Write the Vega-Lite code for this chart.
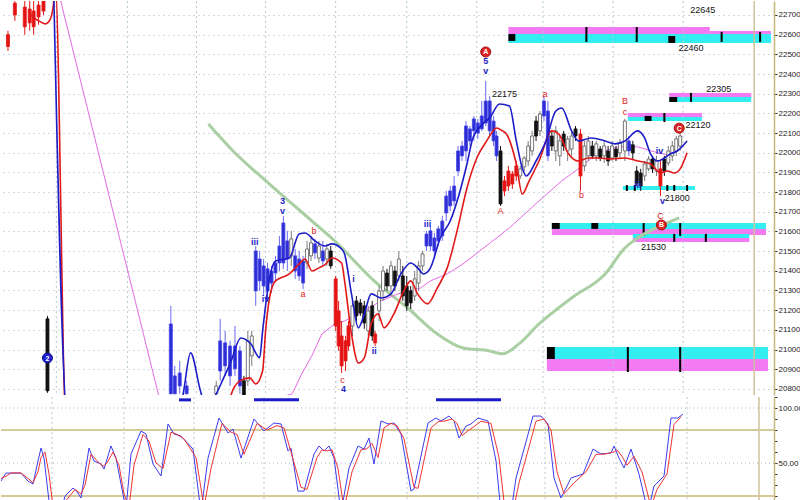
{
  "$schema": "https://vega.github.io/schema/vega-lite/v6.json",
  "background": "white",
  "padding": {"left": 0, "top": 0, "right": -12, "bottom": 0},
  "spacing": 2,
  "bounds": "flush",
  "config": {
    "view": {"stroke": null},
    "font": "Liberation Sans",
    "axis": {"labelFont": "Liberation Sans", "labelFontSize": 8, "labelColor": "#1a1a1a", "tickColor": "#333333", "tickSize": 3, "labelPadding": 1, "domainColor": "#c8b878", "domainWidth": 1.5, "labelOverlap": false}
  },
  "datasets": {
    "vgrid": [{"t": 10.2}, {"t": 24.6}, {"t": 38.6}, {"t": 52.6}, {"t": 66.8}, {"t": 81.2}, {"t": 95.4}, {"t": 108.8}, {"t": 123}, {"t": 137.2}],
    "vline": [{"t": 151.6}],
    "zones": [
      {"x1": 101.8, "x2": 142.6, "y1": 22603, "y2": 22639, "z": "magenta"},
      {"x1": 142.6, "x2": 155, "y1": 22603, "y2": 22619, "z": "magenta"},
      {"x1": 101.8, "x2": 155, "y1": 22558, "y2": 22603, "z": "cyan"},
      {"x1": 134.4, "x2": 151, "y1": 22283, "y2": 22304, "z": "magenta"},
      {"x1": 134.4, "x2": 151, "y1": 22258, "y2": 22283, "z": "cyan"},
      {"x1": 126, "x2": 141, "y1": 22182, "y2": 22202, "z": "magenta"},
      {"x1": 126, "x2": 141, "y1": 22161, "y2": 22182, "z": "cyan"},
      {"x1": 125, "x2": 139.6, "y1": 21811, "y2": 21831, "z": "cyan"},
      {"x1": 110.6, "x2": 154, "y1": 21613, "y2": 21643, "z": "cyan"},
      {"x1": 110.6, "x2": 154, "y1": 21582, "y2": 21613, "z": "magenta"},
      {"x1": 127, "x2": 150.6, "y1": 21567, "y2": 21587, "z": "cyan"},
      {"x1": 127, "x2": 150.6, "y1": 21547, "y2": 21567, "z": "magenta"},
      {"x1": 109.6, "x2": 154.4, "y1": 20952, "y2": 21013, "z": "cyan"},
      {"x1": 109.6, "x2": 154.4, "y1": 20891, "y2": 20952, "z": "magenta"},
      {"x1": 101.8, "x2": 103.2, "y1": 22568, "y2": 22603, "z": "black"},
      {"x1": 134.2, "x2": 135.6, "y1": 22558, "y2": 22593, "z": "black"},
      {"x1": 134.4, "x2": 136, "y1": 22258, "y2": 22283, "z": "black"},
      {"x1": 129.4, "x2": 130.8, "y1": 22161, "y2": 22187, "z": "black"},
      {"x1": 110.6, "x2": 112.2, "y1": 21613, "y2": 21643, "z": "black"},
      {"x1": 118.6, "x2": 120, "y1": 21613, "y2": 21643, "z": "black"},
      {"x1": 109.6, "x2": 111.2, "y1": 20952, "y2": 21013, "z": "black"}
    ],
    "zticks": [
      {"t": 117.6, "y1": 22563, "y2": 22639}, {"t": 127.8, "y1": 22563, "y2": 22639},
      {"t": 145, "y1": 22563, "y2": 22614}, {"t": 152.8, "y1": 22563, "y2": 22614},
      {"t": 138.8, "y1": 22258, "y2": 22304},
      {"t": 133.4, "y1": 22156, "y2": 22202},
      {"t": 125.8, "y1": 21806, "y2": 21836}, {"t": 127.4, "y1": 21806, "y2": 21836}, {"t": 134, "y1": 21806, "y2": 21836}, {"t": 135.4, "y1": 21806, "y2": 21836}, {"t": 138, "y1": 21806, "y2": 21836},
      {"t": 129.2, "y1": 21577, "y2": 21643}, {"t": 136.6, "y1": 21577, "y2": 21643},
      {"t": 135.4, "y1": 21547, "y2": 21587}, {"t": 141.8, "y1": 21547, "y2": 21587},
      {"t": 126, "y1": 20886, "y2": 21013}, {"t": 136.6, "y1": 20886, "y2": 21013}
    ],
    "candles": [
      {"t":0.4,"o":22600,"h":22620,"l":22517,"c":22540,"k":"drop"},
      {"t":1.8,"o":22760,"h":22790,"l":22670,"c":22700,"k":"drop"},
      {"t":3.8,"o":22740,"h":22790,"l":22600,"c":22640,"k":"drop"},
      {"t":4.8,"o":22730,"h":22790,"l":22620,"c":22660,"k":"drop"},
      {"t":5.6,"o":22720,"h":22790,"l":22600,"c":22640,"k":"drop"},
      {"t":6.6,"o":22750,"h":22790,"l":22650,"c":22690,"k":"drop"},
      {"t":7.6,"o":22790,"h":22790,"l":22700,"c":22720,"k":"drop"},
      {"t":8.4,"o":21156,"h":21171,"l":20780,"c":20790,"k":"down"},
      {"t":33.4,"o":20775,"h":21222,"l":20775,"c":21130,"k":"up"},
      {"t":34.2,"o":20775,"h":20917,"l":20775,"c":20866,"k":"up"},
      {"t":35.2,"o":20815,"h":20942,"l":20775,"c":20881,"k":"up"},
      {"t":36.6,"o":20775,"h":20841,"l":20775,"c":20815,"k":"up"},
      {"t":42.6,"o":20775,"h":20841,"l":20775,"c":20815,"k":"flat"},
      {"t":43.4,"o":20891,"h":21156,"l":20841,"c":21044,"k":"up"},
      {"t":44.4,"o":20917,"h":21095,"l":20866,"c":21034,"k":"up"},
      {"t":45.4,"o":20866,"h":21044,"l":20815,"c":21018,"k":"up"},
      {"t":46.4,"o":20902,"h":21120,"l":20866,"c":21018,"k":"up"},
      {"t":47.4,"o":20815,"h":21018,"l":20775,"c":20993,"k":"up"},
      {"t":48.2,"o":20841,"h":20866,"l":20764,"c":20764,"k":"down"},
      {"t":49,"o":20841,"h":21095,"l":20815,"c":21044,"k":"flat"},
      {"t":49.8,"o":20968,"h":21095,"l":20917,"c":21069,"k":"flat"},
      {"t":50.6,"o":21298,"h":21526,"l":21222,"c":21501,"k":"up"},
      {"t":51.4,"o":21349,"h":21501,"l":21298,"c":21460,"k":"up"},
      {"t":52.2,"o":21323,"h":21460,"l":21272,"c":21425,"k":"up"},
      {"t":53,"o":21298,"h":21440,"l":21247,"c":21410,"k":"up"},
      {"t":53.8,"o":21338,"h":21425,"l":21288,"c":21399,"k":"up"},
      {"t":54.6,"o":21389,"h":21476,"l":21349,"c":21440,"k":"up"},
      {"t":55.4,"o":21440,"h":21577,"l":21399,"c":21526,"k":"up"},
      {"t":56.2,"o":21440,"h":21679,"l":21410,"c":21643,"k":"up"},
      {"t":57,"o":21460,"h":21603,"l":21399,"c":21552,"k":"up"},
      {"t":57.8,"o":21476,"h":21603,"l":21425,"c":21562,"k":"flat"},
      {"t":58.6,"o":21399,"h":21511,"l":21359,"c":21476,"k":"up"},
      {"t":59.4,"o":21374,"h":21501,"l":21349,"c":21460,"k":"up"},
      {"t":60.2,"o":21338,"h":21476,"l":21308,"c":21450,"k":"up"},
      {"t":61,"o":21440,"h":21552,"l":21410,"c":21511,"k":"flat"},
      {"t":61.8,"o":21476,"h":21577,"l":21450,"c":21542,"k":"flat"},
      {"t":62.6,"o":21491,"h":21562,"l":21460,"c":21537,"k":"up"},
      {"t":63.4,"o":21465,"h":21552,"l":21440,"c":21526,"k":"flat"},
      {"t":64.2,"o":21450,"h":21552,"l":21425,"c":21501,"k":"up"},
      {"t":65,"o":21460,"h":21537,"l":21425,"c":21511,"k":"flat"},
      {"t":65.8,"o":21501,"h":21526,"l":21410,"c":21425,"k":"down"},
      {"t":66.8,"o":21359,"h":21374,"l":21095,"c":21120,"k":"drop"},
      {"t":67.4,"o":21196,"h":21247,"l":20993,"c":21018,"k":"drop"},
      {"t":68,"o":21069,"h":21145,"l":20881,"c":20917,"k":"drop"},
      {"t":68.8,"o":21044,"h":21069,"l":20891,"c":20942,"k":"drop"},
      {"t":69.4,"o":21018,"h":21145,"l":20993,"c":21120,"k":"drop"},
      {"t":70.2,"o":21120,"h":21247,"l":21069,"c":21222,"k":"flat"},
      {"t":71,"o":21247,"h":21272,"l":21145,"c":21171,"k":"down"},
      {"t":71.8,"o":21237,"h":21257,"l":21171,"c":21186,"k":"down"},
      {"t":72.6,"o":21222,"h":21247,"l":21105,"c":21135,"k":"down"},
      {"t":73.4,"o":21095,"h":21222,"l":21069,"c":21196,"k":"flat"},
      {"t":74.2,"o":21222,"h":21247,"l":21044,"c":21069,"k":"down"},
      {"t":74.8,"o":21079,"h":21095,"l":21018,"c":21034,"k":"drop"},
      {"t":75.6,"o":21196,"h":21323,"l":21145,"c":21298,"k":"flat"},
      {"t":76.4,"o":21298,"h":21425,"l":21247,"c":21399,"k":"flat"},
      {"t":77.2,"o":21389,"h":21410,"l":21298,"c":21323,"k":"down"},
      {"t":78,"o":21323,"h":21450,"l":21272,"c":21425,"k":"flat"},
      {"t":78.8,"o":21399,"h":21425,"l":21298,"c":21323,"k":"down"},
      {"t":79.6,"o":21374,"h":21501,"l":21349,"c":21460,"k":"flat"},
      {"t":80.4,"o":21374,"h":21425,"l":21247,"c":21272,"k":"down"},
      {"t":81.2,"o":21323,"h":21374,"l":21196,"c":21222,"k":"down"},
      {"t":82,"o":21298,"h":21323,"l":21206,"c":21237,"k":"down"},
      {"t":82.8,"o":21272,"h":21399,"l":21247,"c":21359,"k":"flat"},
      {"t":83.6,"o":21338,"h":21450,"l":21298,"c":21425,"k":"flat"},
      {"t":84.4,"o":21425,"h":21501,"l":21399,"c":21486,"k":"flat"},
      {"t":85.2,"o":21526,"h":21603,"l":21501,"c":21587,"k":"up"},
      {"t":86,"o":21526,"h":21628,"l":21501,"c":21603,"k":"up"},
      {"t":86.8,"o":21501,"h":21592,"l":21476,"c":21567,"k":"up"},
      {"t":87.6,"o":21552,"h":21628,"l":21526,"c":21613,"k":"up"},
      {"t":88.4,"o":21577,"h":21679,"l":21552,"c":21653,"k":"up"},
      {"t":89.2,"o":21694,"h":21806,"l":21653,"c":21780,"k":"up"},
      {"t":90,"o":21730,"h":21831,"l":21704,"c":21806,"k":"up"},
      {"t":90.8,"o":21755,"h":21882,"l":21730,"c":21831,"k":"up"},
      {"t":91.6,"o":21907,"h":22034,"l":21882,"c":22009,"k":"up"},
      {"t":92.4,"o":21984,"h":22060,"l":21958,"c":22034,"k":"up"},
      {"t":93.2,"o":22009,"h":22161,"l":21958,"c":22136,"k":"up"},
      {"t":94,"o":22060,"h":22136,"l":22034,"c":22121,"k":"up"},
      {"t":94.8,"o":22111,"h":22187,"l":22060,"c":22172,"k":"up"},
      {"t":95.6,"o":22100,"h":22172,"l":22070,"c":22151,"k":"up"},
      {"t":96.4,"o":22121,"h":22263,"l":22111,"c":22187,"k":"up"},
      {"t":97.2,"o":22151,"h":22365,"l":22136,"c":22263,"k":"up"},
      {"t":98,"o":22263,"h":22288,"l":22085,"c":22111,"k":"up"},
      {"t":98.8,"o":22161,"h":22187,"l":22034,"c":22060,"k":"up"},
      {"t":99.4,"o":22085,"h":22111,"l":21958,"c":21984,"k":"up"},
      {"t":100.2,"o":22009,"h":22034,"l":21730,"c":21740,"k":"down"},
      {"t":101,"o":21806,"h":21882,"l":21780,"c":21857,"k":"drop"},
      {"t":101.8,"o":21831,"h":21933,"l":21806,"c":21907,"k":"drop"},
      {"t":102.6,"o":21841,"h":21907,"l":21816,"c":21892,"k":"drop"},
      {"t":103.4,"o":21882,"h":21958,"l":21857,"c":21933,"k":"drop"},
      {"t":104.2,"o":21882,"h":21933,"l":21867,"c":21918,"k":"flat"},
      {"t":105,"o":21928,"h":21984,"l":21907,"c":21973,"k":"flat"},
      {"t":105.8,"o":21958,"h":22060,"l":21933,"c":22034,"k":"flat"},
      {"t":106.6,"o":22009,"h":22111,"l":21984,"c":22085,"k":"flat"},
      {"t":107.4,"o":22161,"h":22187,"l":22060,"c":22085,"k":"down"},
      {"t":108.2,"o":22111,"h":22212,"l":22085,"c":22197,"k":"flat"},
      {"t":109,"o":22187,"h":22288,"l":22161,"c":22263,"k":"up"},
      {"t":109.8,"o":22212,"h":22263,"l":21958,"c":21984,"k":"up"},
      {"t":110.6,"o":22085,"h":22111,"l":22009,"c":22034,"k":"down"},
      {"t":111.4,"o":22009,"h":22136,"l":21958,"c":22111,"k":"flat"},
      {"t":112.2,"o":21984,"h":22085,"l":21933,"c":22060,"k":"flat"},
      {"t":113,"o":22095,"h":22111,"l":22009,"c":22034,"k":"down"},
      {"t":113.8,"o":22009,"h":22085,"l":21958,"c":22070,"k":"flat"},
      {"t":114.6,"o":22019,"h":22111,"l":21984,"c":22085,"k":"flat"},
      {"t":115.4,"o":22121,"h":22136,"l":22060,"c":22085,"k":"down"},
      {"t":116.4,"o":22095,"h":22121,"l":21806,"c":21882,"k":"drop"},
      {"t":117.2,"o":21933,"h":22060,"l":21907,"c":22034,"k":"flat"},
      {"t":118,"o":21984,"h":22085,"l":21958,"c":22060,"k":"flat"},
      {"t":118.8,"o":22034,"h":22060,"l":21968,"c":21984,"k":"down"},
      {"t":119.6,"o":21984,"h":22060,"l":21958,"c":22045,"k":"flat"},
      {"t":120.4,"o":22019,"h":22034,"l":21958,"c":21973,"k":"down"},
      {"t":121.2,"o":21984,"h":22060,"l":21948,"c":22034,"k":"flat"},
      {"t":122,"o":22009,"h":22034,"l":21933,"c":21958,"k":"down"},
      {"t":122.8,"o":21973,"h":22060,"l":21958,"c":22034,"k":"flat"},
      {"t":123.6,"o":22019,"h":22034,"l":21958,"c":21979,"k":"down"},
      {"t":124.4,"o":21999,"h":22070,"l":21968,"c":22050,"k":"flat"},
      {"t":125.4,"o":22009,"h":22172,"l":21958,"c":22161,"k":"flat"},
      {"t":126.2,"o":22009,"h":22085,"l":21984,"c":22060,"k":"up"},
      {"t":127,"o":22040,"h":22060,"l":21968,"c":21999,"k":"down"},
      {"t":127.8,"o":21907,"h":21933,"l":21831,"c":21846,"k":"down"},
      {"t":128.6,"o":21897,"h":21918,"l":21806,"c":21831,"k":"down"},
      {"t":129.4,"o":21882,"h":21958,"l":21857,"c":21943,"k":"flat"},
      {"t":130.2,"o":21918,"h":21984,"l":21907,"c":21968,"k":"flat"},
      {"t":131,"o":21968,"h":21984,"l":21897,"c":21918,"k":"down"},
      {"t":131.8,"o":21907,"h":21984,"l":21882,"c":21958,"k":"flat"},
      {"t":132.6,"o":21918,"h":21958,"l":21780,"c":21831,"k":"drop"},
      {"t":133.4,"o":21968,"h":21984,"l":21882,"c":21907,"k":"down"},
      {"t":134.2,"o":21948,"h":22034,"l":21933,"c":22009,"k":"flat"},
      {"t":135,"o":21984,"h":22060,"l":21958,"c":22034,"k":"flat"},
      {"t":135.8,"o":22009,"h":22085,"l":21984,"c":22070,"k":"flat"},
      {"t":136.6,"o":22034,"h":22100,"l":22009,"c":22085,"k":"flat"}
    ],
    "fast": [
      {"t":9.6,"v":22900},{"t":12.6,"v":20600},{"t":35,"v":20650},{"t":36,"v":20790},{"t":37.4,"v":20983},{"t":39.4,"v":20790},{"t":40.6,"v":20700},{"t":42.6,"v":20775},{"t":44,"v":20850},{"t":45.4,"v":20927},{"t":47.6,"v":21059},{"t":49.6,"v":21029},{"t":51.4,"v":20958},{"t":52,"v":21095},{"t":53.4,"v":21364},{"t":54.6,"v":21450},{"t":57.4,"v":21465},{"t":59.4,"v":21587},{"t":60.6,"v":21592},{"t":62.6,"v":21552},{"t":64.6,"v":21526},{"t":66,"v":21537},{"t":68,"v":21511},{"t":68.6,"v":21486},{"t":70,"v":21283},{"t":71.4,"v":21110},{"t":72.6,"v":21181},{"t":74,"v":21283},{"t":76,"v":21262},{"t":78,"v":21283},{"t":80,"v":21384},{"t":82,"v":21440},{"t":83.4,"v":21415},{"t":84.6,"v":21384},{"t":86,"v":21415},{"t":88,"v":21567},{"t":90,"v":21653},{"t":92,"v":21806},{"t":93.4,"v":21943},{"t":94.6,"v":22075},{"t":96.6,"v":22146},{"t":98,"v":22177},{"t":100,"v":22248},{"t":102,"v":22238},{"t":103.4,"v":22060},{"t":104.6,"v":21923},{"t":105.4,"v":21882},{"t":107.4,"v":21958},{"t":109.4,"v":22060},{"t":111.4,"v":22212},{"t":112.6,"v":22227},{"t":114.6,"v":22111},{"t":116,"v":22060},{"t":118.6,"v":22075},{"t":121.4,"v":22060},{"t":123.4,"v":22045},{"t":125.4,"v":22060},{"t":128,"v":22111},{"t":129.4,"v":22075},{"t":130.6,"v":21994},{"t":132,"v":21958},{"t":133.4,"v":21973},{"t":134.6,"v":21994},{"t":136,"v":22009},{"t":138,"v":22060}
    ],
    "mid": [
      {"t":5,"v":22700},{"t":6,"v":22680},{"t":7,"v":22665},{"t":8,"v":22655},{"t":9,"v":22680},{"t":9.6,"v":22750},{"t":10,"v":22850},{"t":12.2,"v":20600},{"t":45,"v":20600},{"t":45.6,"v":20770},{"t":47.4,"v":20841},{"t":49.4,"v":20856},{"t":50.6,"v":20825},{"t":52,"v":20892},{"t":52.6,"v":21095},{"t":53.4,"v":21262},{"t":54.6,"v":21349},{"t":57.4,"v":21384},{"t":59.4,"v":21435},{"t":60.6,"v":21460},{"t":62,"v":21399},{"t":63.4,"v":21415},{"t":64.6,"v":21430},{"t":66,"v":21465},{"t":68,"v":21440},{"t":68.6,"v":21349},{"t":70,"v":21079},{"t":71.4,"v":20932},{"t":72.6,"v":20958},{"t":74,"v":21130},{"t":75.4,"v":21181},{"t":76.6,"v":21110},{"t":78.6,"v":21181},{"t":80.6,"v":21298},{"t":82,"v":21349},{"t":83.4,"v":21283},{"t":85.4,"v":21232},{"t":87.4,"v":21313},{"t":89.4,"v":21415},{"t":91.4,"v":21603},{"t":93.4,"v":21821},{"t":95.4,"v":21973},{"t":97.4,"v":22060},{"t":99.4,"v":22126},{"t":100.6,"v":22111},{"t":101.4,"v":22095},{"t":103.4,"v":21943},{"t":104.6,"v":21790},{"t":106,"v":21857},{"t":108,"v":21958},{"t":110.6,"v":22111},{"t":112,"v":22095},{"t":114,"v":21994},{"t":116,"v":21958},{"t":118,"v":21973},{"t":120,"v":21973},{"t":122.6,"v":21968},{"t":125.4,"v":21973},{"t":128,"v":21958},{"t":130.6,"v":21943},{"t":132.6,"v":21897},{"t":134,"v":21907},{"t":135.4,"v":21897},{"t":136.6,"v":21918},{"t":138,"v":22000}
    ],
    "slow": [
      {"t":10.8,"v":22800},{"t":31.2,"v":20740},{"t":53,"v":20740},{"t":58,"v":20775},{"t":60,"v":20880},{"t":62,"v":20970},{"t":64,"v":21079},{"t":66.6,"v":21130},{"t":68.6,"v":21145},{"t":72.6,"v":21196},{"t":76,"v":21247},{"t":79.4,"v":21283},{"t":84,"v":21313},{"t":86,"v":21349},{"t":89.4,"v":21384},{"t":92.6,"v":21435},{"t":96,"v":21501},{"t":99.4,"v":21567},{"t":102,"v":21618},{"t":108,"v":21755},{"t":112.6,"v":21857},{"t":116.6,"v":21930},{"t":120,"v":22000},{"t":124,"v":22030},{"t":128,"v":22030},{"t":132,"v":22000},{"t":134,"v":21990}
    ],
    "trend": [
      {"t":41,"v":22146},{"t":46,"v":22009},{"t":53.4,"v":21841},{"t":62,"v":21653},{"t":66.6,"v":21552},{"t":74.6,"v":21349},{"t":81.4,"v":21211},{"t":87.4,"v":21079},{"t":92.6,"v":21008},{"t":98,"v":20993},{"t":100.6,"v":20978},{"t":104,"v":21030},{"t":108,"v":21130},{"t":114.6,"v":21262},{"t":121.4,"v":21384},{"t":125.4,"v":21516},{"t":128,"v":21567},{"t":132.6,"v":21628},{"t":136.4,"v":21669}
    ],
    "lab_num": [
      {"t":141.2,"v":22725,"txt":"22645"},{"t":138.8,"v":22532,"txt":"22460"},{"t":144.4,"v":22324,"txt":"22305"},{"t":140.2,"v":22141,"txt":"22120"},{"t":101,"v":22299,"txt":"22175"},{"t":136,"v":21770,"txt":"21800"},{"t":131.2,"v":21521,"txt":"21530"}
    ],
    "lab_red": [
      {"t":60.2,"v":21283,"txt":"a"},{"t":62.4,"v":21603,"txt":"b"},{"t":68.2,"v":20846,"txt":"c"},{"t":100.2,"v":21704,"txt":"A"},{"t":109.2,"v":22299,"txt":"a"},{"t":116.6,"v":21785,"txt":"b"},{"t":125.4,"v":22263,"txt":"B"},{"t":125.4,"v":22207,"txt":"c"},{"t":132.6,"v":21679,"txt":"C"}
    ],
    "lab_blue": [
      {"t":56,"v":21755,"txt":"3"},{"t":56,"v":21704,"txt":"v"},{"t":50.4,"v":21547,"txt":"iii"},{"t":52.6,"v":21257,"txt":"iv"},{"t":68.4,"v":20800,"txt":"4"},{"t":70.4,"v":21359,"txt":"i"},{"t":74.6,"v":20993,"txt":"ii"},{"t":85.4,"v":21638,"txt":"iii"},{"t":97.2,"v":22466,"txt":"5"},{"t":97.2,"v":22415,"txt":"v"},{"t":128,"v":21836,"txt":"iii"},{"t":133,"v":21755,"txt":"v"},{"t":132.4,"v":22009,"txt":"iv"},{"t":126.6,"v":22024,"txt":"i"}
    ],
    "circles": [
      {"t":97.2,"v":22512,"txt":"A","g":"red"},{"t":136.4,"v":22125,"txt":"C","g":"red"},{"t":132.8,"v":21633,"txt":"B","g":"red"},{"t":8.4,"v":20957,"txt":"2","g":"blue"}
    ],
    "stoch": [
      {"t":0,"v":33.6,"s":"k"},{"t":1,"v":40.9,"s":"k"},{"t":2,"v":40.9,"s":"k"},{"t":4,"v":40.9,"s":"k"},{"t":5.4,"v":33.6,"s":"k"},{"t":6.4,"v":30.9,"s":"k"},{"t":7.4,"v":51.8,"s":"k"},{"t":8,"v":63.6,"s":"k"},{"t":8.6,"v":54.5,"s":"k"},{"t":9.6,"v":15.5,"s":"k"},{"t":10.4,"v":5,"s":"k"},{"t":12,"v":5,"s":"k"},{"t":12.8,"v":20,"s":"k"},{"t":14.4,"v":27.3,"s":"k"},{"t":15.2,"v":24,"s":"k"},{"t":16,"v":18.2,"s":"k"},{"t":17.6,"v":63.6,"s":"k"},{"t":18.6,"v":51.8,"s":"k"},{"t":20,"v":49.1,"s":"k"},{"t":20.6,"v":44.5,"s":"k"},{"t":22,"v":65.5,"s":"k"},{"t":23,"v":54.5,"s":"k"},{"t":24,"v":30.9,"s":"k"},{"t":25,"v":8,"s":"k"},{"t":26,"v":58.2,"s":"k"},{"t":28,"v":79.1,"s":"k"},{"t":29,"v":76.4,"s":"k"},{"t":30.4,"v":49.1,"s":"k"},{"t":32,"v":38.2,"s":"k"},{"t":33.4,"v":85.5,"s":"k"},{"t":34.6,"v":76.4,"s":"k"},{"t":36,"v":74.5,"s":"k"},{"t":38.4,"v":62.7,"s":"k"},{"t":40,"v":5,"s":"k"},{"t":41.4,"v":54.5,"s":"k"},{"t":43.6,"v":90.9,"s":"k"},{"t":45.4,"v":77.3,"s":"k"},{"t":46.4,"v":80.9,"s":"k"},{"t":48,"v":54.5,"s":"k"},{"t":50.6,"v":90,"s":"k"},{"t":52.6,"v":79.1,"s":"k"},{"t":54.6,"v":86.4,"s":"k"},{"t":56,"v":85.5,"s":"k"},{"t":57.4,"v":60.9,"s":"k"},{"t":58,"v":63.6,"s":"k"},{"t":59.4,"v":24.5,"s":"k"},{"t":60.6,"v":24.5,"s":"k"},{"t":62.6,"v":58.2,"s":"k"},{"t":63.6,"v":65.5,"s":"k"},{"t":64.6,"v":60.9,"s":"k"},{"t":65.6,"v":65.5,"s":"k"},{"t":66.6,"v":54.5,"s":"k"},{"t":68,"v":5,"s":"k"},{"t":69.6,"v":45.5,"s":"k"},{"t":71.4,"v":65.5,"s":"k"},{"t":72.6,"v":62.7,"s":"k"},{"t":73.6,"v":72.7,"s":"k"},{"t":74.6,"v":49.1,"s":"k"},{"t":76,"v":88.2,"s":"k"},{"t":77.4,"v":85.5,"s":"k"},{"t":78.6,"v":86.4,"s":"k"},{"t":80,"v":76.4,"s":"k"},{"t":82,"v":24.5,"s":"k"},{"t":82.6,"v":26.4,"s":"k"},{"t":85.4,"v":86.4,"s":"k"},{"t":87,"v":90.9,"s":"k"},{"t":88,"v":88.2,"s":"k"},{"t":89.6,"v":92.7,"s":"k"},{"t":90.6,"v":88.2,"s":"k"},{"t":91.6,"v":72.7,"s":"k"},{"t":93,"v":83.6,"s":"k"},{"t":94,"v":85.5,"s":"k"},{"t":95.4,"v":90.9,"s":"k"},{"t":97.4,"v":88.2,"s":"k"},{"t":99,"v":51.8,"s":"k"},{"t":100,"v":5,"s":"k"},{"t":102,"v":5,"s":"k"},{"t":103,"v":36.4,"s":"k"},{"t":104.6,"v":62.7,"s":"k"},{"t":106.4,"v":92.7,"s":"k"},{"t":108,"v":92.7,"s":"k"},{"t":109.4,"v":85.5,"s":"k"},{"t":110.6,"v":36.4,"s":"k"},{"t":112,"v":18.2,"s":"k"},{"t":114,"v":36.4,"s":"k"},{"t":116.4,"v":40,"s":"k"},{"t":118.4,"v":62.7,"s":"k"},{"t":120,"v":58.2,"s":"k"},{"t":122,"v":59.1,"s":"k"},{"t":122.6,"v":65.5,"s":"k"},{"t":123.6,"v":54.5,"s":"k"},{"t":124.6,"v":45.5,"s":"k"},{"t":126,"v":62.7,"s":"k"},{"t":127.6,"v":40,"s":"k"},{"t":129.4,"v":5,"s":"k"},{"t":130.6,"v":29.1,"s":"k"},{"t":132.6,"v":38.2,"s":"k"},{"t":134,"v":90.9,"s":"k"},{"t":135.4,"v":90.9,"s":"k"},{"t":136.4,"v":94.5,"s":"k"},
      {"t":0,"v":36,"s":"d"},{"t":1,"v":38,"s":"d"},{"t":2,"v":41,"s":"d"},{"t":4,"v":41,"s":"d"},{"t":5.4,"v":36,"s":"d"},{"t":6.4,"v":32,"s":"d"},{"t":7.4,"v":42,"s":"d"},{"t":8,"v":55,"s":"d"},{"t":8.8,"v":60,"s":"d"},{"t":9.6,"v":40,"s":"d"},{"t":10.4,"v":10,"s":"d"},{"t":12,"v":5,"s":"d"},{"t":13.2,"v":17,"s":"d"},{"t":14.8,"v":26,"s":"d"},{"t":16,"v":22,"s":"d"},{"t":16.8,"v":30,"s":"d"},{"t":18,"v":58,"s":"d"},{"t":19.2,"v":52,"s":"d"},{"t":20.4,"v":47,"s":"d"},{"t":21.2,"v":50,"s":"d"},{"t":22.4,"v":60,"s":"d"},{"t":23.6,"v":48,"s":"d"},{"t":24.6,"v":22,"s":"d"},{"t":25.6,"v":10,"s":"d"},{"t":26.6,"v":48,"s":"d"},{"t":28.4,"v":76,"s":"d"},{"t":29.6,"v":70,"s":"d"},{"t":31,"v":50,"s":"d"},{"t":32.4,"v":45,"s":"d"},{"t":34,"v":78,"s":"d"},{"t":35.2,"v":76,"s":"d"},{"t":36.6,"v":72,"s":"d"},{"t":39,"v":55,"s":"d"},{"t":40.6,"v":10,"s":"d"},{"t":42,"v":45,"s":"d"},{"t":44.2,"v":86,"s":"d"},{"t":46,"v":78,"s":"d"},{"t":47.2,"v":76,"s":"d"},{"t":48.6,"v":58,"s":"d"},{"t":51.2,"v":86,"s":"d"},{"t":53.2,"v":80,"s":"d"},{"t":55.2,"v":84,"s":"d"},{"t":56.6,"v":82,"s":"d"},{"t":58,"v":60,"s":"d"},{"t":60,"v":28,"s":"d"},{"t":61.2,"v":26,"s":"d"},{"t":63.2,"v":55,"s":"d"},{"t":64.2,"v":62,"s":"d"},{"t":65.2,"v":61,"s":"d"},{"t":66.2,"v":62,"s":"d"},{"t":67.4,"v":45,"s":"d"},{"t":68.6,"v":8,"s":"d"},{"t":70.2,"v":42,"s":"d"},{"t":72,"v":62,"s":"d"},{"t":73.2,"v":63,"s":"d"},{"t":74.2,"v":68,"s":"d"},{"t":75.4,"v":55,"s":"d"},{"t":76.6,"v":82,"s":"d"},{"t":78,"v":86,"s":"d"},{"t":79.2,"v":84,"s":"d"},{"t":80.6,"v":72,"s":"d"},{"t":82.6,"v":28,"s":"d"},{"t":83.4,"v":27,"s":"d"},{"t":86,"v":82,"s":"d"},{"t":87.6,"v":88,"s":"d"},{"t":88.6,"v":88,"s":"d"},{"t":90.2,"v":90,"s":"d"},{"t":91.2,"v":86,"s":"d"},{"t":92.2,"v":75,"s":"d"},{"t":93.6,"v":80,"s":"d"},{"t":94.6,"v":83,"s":"d"},{"t":96,"v":88,"s":"d"},{"t":98,"v":86,"s":"d"},{"t":99.6,"v":55,"s":"d"},{"t":100.6,"v":15,"s":"d"},{"t":102.6,"v":10,"s":"d"},{"t":103.6,"v":32,"s":"d"},{"t":105.2,"v":58,"s":"d"},{"t":107,"v":88,"s":"d"},{"t":108.6,"v":90,"s":"d"},{"t":110,"v":80,"s":"d"},{"t":111.2,"v":42,"s":"d"},{"t":112.6,"v":22,"s":"d"},{"t":114.6,"v":32,"s":"d"},{"t":117,"v":42,"s":"d"},{"t":119,"v":58,"s":"d"},{"t":120.6,"v":58,"s":"d"},{"t":122.6,"v":60,"s":"d"},{"t":123.2,"v":62,"s":"d"},{"t":124.2,"v":56,"s":"d"},{"t":125.2,"v":48,"s":"d"},{"t":126.6,"v":56,"s":"d"},{"t":128.2,"v":42,"s":"d"},{"t":130,"v":10,"s":"d"},{"t":131.2,"v":26,"s":"d"},{"t":133.2,"v":40,"s":"d"},{"t":134.6,"v":85,"s":"d"},{"t":136,"v":92,"s":"d"}
    ],
    "levels_dot": [{"v": 100}, {"v": 50}],
    "levels_olive": [{"v": 80}, {"v": 20}],
    "markers": [{"t1": 35.6, "t2": 38}, {"t1": 50.6, "t2": 59.6}, {"t1": 87, "t2": 100}]
  },
  "vconcat": [
    {
      "width": 773,
      "height": 394,
      "resolve": {"scale": {"fill": "independent", "stroke": "independent", "color": "independent"}},
      "layer": [
        {
          "data": {"name": "zones"},
          "mark": {"type": "rect", "clip": true},
          "encoding": {
            "x": {"field": "x1", "type": "quantitative", "scale": {"domain": [0, 154.6], "nice": false, "zero": false}, "axis": null},
            "x2": {"field": "x2"},
            "y": {"field": "y1", "type": "quantitative", "scale": {"domain": [20769, 22771], "nice": false, "zero": false}, "axis": {"orient": "right", "values": [20800, 20900, 21000, 21100, 21200, 21300, 21400, 21500, 21600, 21700, 21800, 21900, 22000, 22100, 22200, 22300, 22400, 22500, 22600, 22700], "format": ".2f", "labelOverlap": false, "grid": true, "gridDash": [1, 4], "gridColor": "#a8b4c0", "gridWidth": 1, "title": null}},
            "y2": {"field": "y2"},
            "fill": {"field": "z", "type": "nominal", "scale": {"domain": ["cyan", "magenta", "black"], "range": ["#33eef0", "#f27af2", "#000000"]}, "legend": null}
          }
        },
        {
          "data": {"name": "vgrid"},
          "mark": {"type": "rule", "strokeDash": [2, 3], "color": "#b4c8d2", "strokeWidth": 1},
          "encoding": {"x": {"field": "t", "type": "quantitative", "scale": {"domain": [0, 154.6], "nice": false, "zero": false}, "axis": null}}
        },
        {
          "data": {"name": "vline"},
          "mark": {"type": "rule", "color": "#cfc39a", "strokeWidth": 1.5},
          "encoding": {"x": {"field": "t", "type": "quantitative", "scale": {"domain": [0, 154.6], "nice": false, "zero": false}, "axis": null}}
        },
        {
          "data": {"name": "zticks"},
          "mark": {"type": "rule", "color": "#000000", "strokeWidth": 2, "clip": true},
          "encoding": {
            "x": {"field": "t", "type": "quantitative", "scale": {"domain": [0, 154.6], "nice": false, "zero": false}, "axis": null},
            "y": {"field": "y1", "type": "quantitative", "scale": {"domain": [20769, 22771], "nice": false, "zero": false}, "axis": {"orient": "right", "values": [20800, 20900, 21000, 21100, 21200, 21300, 21400, 21500, 21600, 21700, 21800, 21900, 22000, 22100, 22200, 22300, 22400, 22500, 22600, 22700], "format": ".2f", "labelOverlap": false, "grid": true, "gridDash": [1, 4], "gridColor": "#a8b4c0", "gridWidth": 1, "title": null}},
            "y2": {"field": "y2"}
          }
        },
        {
          "data": {"name": "trend"},
          "mark": {"type": "line", "color": "#a9cfa2", "strokeWidth": 3, "interpolate": "monotone", "clip": true},
          "encoding": {
            "x": {"field": "t", "type": "quantitative", "scale": {"domain": [0, 154.6], "nice": false, "zero": false}, "axis": null},
            "y": {"field": "v", "type": "quantitative", "scale": {"domain": [20769, 22771], "nice": false, "zero": false}, "axis": {"orient": "right", "values": [20800, 20900, 21000, 21100, 21200, 21300, 21400, 21500, 21600, 21700, 21800, 21900, 22000, 22100, 22200, 22300, 22400, 22500, 22600, 22700], "format": ".2f", "labelOverlap": false, "grid": true, "gridDash": [1, 4], "gridColor": "#a8b4c0", "gridWidth": 1, "title": null}}
          }
        },
        {
          "data": {"name": "slow"},
          "mark": {"type": "line", "color": "#e46ae4", "strokeWidth": 1, "interpolate": "linear", "clip": true},
          "encoding": {
            "x": {"field": "t", "type": "quantitative", "scale": {"domain": [0, 154.6], "nice": false, "zero": false}, "axis": null},
            "y": {"field": "v", "type": "quantitative", "scale": {"domain": [20769, 22771], "nice": false, "zero": false}, "axis": {"orient": "right", "values": [20800, 20900, 21000, 21100, 21200, 21300, 21400, 21500, 21600, 21700, 21800, 21900, 22000, 22100, 22200, 22300, 22400, 22500, 22600, 22700], "format": ".2f", "labelOverlap": false, "grid": true, "gridDash": [1, 4], "gridColor": "#a8b4c0", "gridWidth": 1, "title": null}}
          }
        },
        {
          "data": {"name": "candles"},
          "mark": {"type": "rule", "strokeWidth": 1, "clip": true},
          "encoding": {
            "x": {"field": "t", "type": "quantitative", "scale": {"domain": [0, 154.6], "nice": false, "zero": false}, "axis": null},
            "y": {"field": "l", "type": "quantitative", "scale": {"domain": [20769, 22771], "nice": false, "zero": false}, "axis": {"orient": "right", "values": [20800, 20900, 21000, 21100, 21200, 21300, 21400, 21500, 21600, 21700, 21800, 21900, 22000, 22100, 22200, 22300, 22400, 22500, 22600, 22700], "format": ".2f", "labelOverlap": false, "grid": true, "gridDash": [1, 4], "gridColor": "#a8b4c0", "gridWidth": 1, "title": null}},
            "y2": {"field": "h"},
            "color": {"field": "k", "type": "nominal", "scale": {"domain": ["up", "flat", "down", "drop"], "range": ["#6a6af2", "#7a7a7a", "#111111", "#e51414"]}, "legend": null}
          }
        },
        {
          "data": {"name": "candles"},
          "mark": {"type": "bar", "size": 3, "strokeWidth": 0.8, "clip": true},
          "encoding": {
            "x": {"field": "t", "type": "quantitative", "scale": {"domain": [0, 154.6], "nice": false, "zero": false}, "axis": null},
            "y": {"field": "o", "type": "quantitative", "scale": {"domain": [20769, 22771], "nice": false, "zero": false}, "axis": {"orient": "right", "values": [20800, 20900, 21000, 21100, 21200, 21300, 21400, 21500, 21600, 21700, 21800, 21900, 22000, 22100, 22200, 22300, 22400, 22500, 22600, 22700], "format": ".2f", "labelOverlap": false, "grid": true, "gridDash": [1, 4], "gridColor": "#a8b4c0", "gridWidth": 1, "title": null}},
            "y2": {"field": "c"},
            "fill": {"field": "k", "type": "nominal", "scale": {"domain": ["up", "flat", "down", "drop"], "range": ["#2d2dd6", "#ffffff", "#111111", "#e51414"]}, "legend": null},
            "stroke": {"field": "k", "type": "nominal", "scale": {"domain": ["up", "flat", "down", "drop"], "range": ["#4545e6", "#555555", "#111111", "#e51414"]}, "legend": null}
          }
        },
        {
          "data": {"name": "mid"},
          "mark": {"type": "line", "color": "#e01818", "strokeWidth": 1.6, "interpolate": "monotone", "clip": true},
          "encoding": {
            "x": {"field": "t", "type": "quantitative", "scale": {"domain": [0, 154.6], "nice": false, "zero": false}, "axis": null},
            "y": {"field": "v", "type": "quantitative", "scale": {"domain": [20769, 22771], "nice": false, "zero": false}, "axis": {"orient": "right", "values": [20800, 20900, 21000, 21100, 21200, 21300, 21400, 21500, 21600, 21700, 21800, 21900, 22000, 22100, 22200, 22300, 22400, 22500, 22600, 22700], "format": ".2f", "labelOverlap": false, "grid": true, "gridDash": [1, 4], "gridColor": "#a8b4c0", "gridWidth": 1, "title": null}}
          }
        },
        {
          "data": {"name": "fast"},
          "mark": {"type": "line", "color": "#1c1cc8", "strokeWidth": 1.6, "interpolate": "monotone", "clip": true},
          "encoding": {
            "x": {"field": "t", "type": "quantitative", "scale": {"domain": [0, 154.6], "nice": false, "zero": false}, "axis": null},
            "y": {"field": "v", "type": "quantitative", "scale": {"domain": [20769, 22771], "nice": false, "zero": false}, "axis": {"orient": "right", "values": [20800, 20900, 21000, 21100, 21200, 21300, 21400, 21500, 21600, 21700, 21800, 21900, 22000, 22100, 22200, 22300, 22400, 22500, 22600, 22700], "format": ".2f", "labelOverlap": false, "grid": true, "gridDash": [1, 4], "gridColor": "#a8b4c0", "gridWidth": 1, "title": null}}
          }
        },
        {
          "data": {"name": "lab_num"},
          "mark": {"type": "text", "fontSize": 9, "font": "Liberation Sans", "color": "#111111", "align": "center", "baseline": "middle"},
          "encoding": {
            "x": {"field": "t", "type": "quantitative", "scale": {"domain": [0, 154.6], "nice": false, "zero": false}, "axis": null},
            "y": {"field": "v", "type": "quantitative", "scale": {"domain": [20769, 22771], "nice": false, "zero": false}, "axis": {"orient": "right", "values": [20800, 20900, 21000, 21100, 21200, 21300, 21400, 21500, 21600, 21700, 21800, 21900, 22000, 22100, 22200, 22300, 22400, 22500, 22600, 22700], "format": ".2f", "labelOverlap": false, "grid": true, "gridDash": [1, 4], "gridColor": "#a8b4c0", "gridWidth": 1, "title": null}},
            "text": {"field": "txt"}
          }
        },
        {
          "data": {"name": "lab_red"},
          "mark": {"type": "text", "fontSize": 9, "font": "Liberation Sans", "color": "#e02020", "align": "center", "baseline": "middle"},
          "encoding": {
            "x": {"field": "t", "type": "quantitative", "scale": {"domain": [0, 154.6], "nice": false, "zero": false}, "axis": null},
            "y": {"field": "v", "type": "quantitative", "scale": {"domain": [20769, 22771], "nice": false, "zero": false}, "axis": {"orient": "right", "values": [20800, 20900, 21000, 21100, 21200, 21300, 21400, 21500, 21600, 21700, 21800, 21900, 22000, 22100, 22200, 22300, 22400, 22500, 22600, 22700], "format": ".2f", "labelOverlap": false, "grid": true, "gridDash": [1, 4], "gridColor": "#a8b4c0", "gridWidth": 1, "title": null}},
            "text": {"field": "txt"}
          }
        },
        {
          "data": {"name": "lab_blue"},
          "mark": {"type": "text", "fontSize": 9, "font": "Liberation Sans", "fontWeight": "bold", "color": "#2424c8", "align": "center", "baseline": "middle"},
          "encoding": {
            "x": {"field": "t", "type": "quantitative", "scale": {"domain": [0, 154.6], "nice": false, "zero": false}, "axis": null},
            "y": {"field": "v", "type": "quantitative", "scale": {"domain": [20769, 22771], "nice": false, "zero": false}, "axis": {"orient": "right", "values": [20800, 20900, 21000, 21100, 21200, 21300, 21400, 21500, 21600, 21700, 21800, 21900, 22000, 22100, 22200, 22300, 22400, 22500, 22600, 22700], "format": ".2f", "labelOverlap": false, "grid": true, "gridDash": [1, 4], "gridColor": "#a8b4c0", "gridWidth": 1, "title": null}},
            "text": {"field": "txt"}
          }
        },
        {
          "data": {"name": "circles"},
          "mark": {"type": "point", "shape": "circle", "filled": true, "size": 100, "opacity": 1, "strokeWidth": 1},
          "encoding": {
            "x": {"field": "t", "type": "quantitative", "scale": {"domain": [0, 154.6], "nice": false, "zero": false}, "axis": null},
            "y": {"field": "v", "type": "quantitative", "scale": {"domain": [20769, 22771], "nice": false, "zero": false}, "axis": {"orient": "right", "values": [20800, 20900, 21000, 21100, 21200, 21300, 21400, 21500, 21600, 21700, 21800, 21900, 22000, 22100, 22200, 22300, 22400, 22500, 22600, 22700], "format": ".2f", "labelOverlap": false, "grid": true, "gridDash": [1, 4], "gridColor": "#a8b4c0", "gridWidth": 1, "title": null}},
            "fill": {"field": "g", "type": "nominal", "scale": {"domain": ["red", "blue"], "range": ["#e02424", "#2222cc"]}, "legend": null},
            "stroke": {"field": "g", "type": "nominal", "scale": {"domain": ["red", "blue"], "range": ["#a01010", "#101090"]}, "legend": null}
          }
        },
        {
          "data": {"name": "circles"},
          "mark": {"type": "text", "fontSize": 7, "fontWeight": "bold", "color": "#ffffff", "align": "center", "baseline": "middle", "dy": 0.5},
          "encoding": {
            "x": {"field": "t", "type": "quantitative", "scale": {"domain": [0, 154.6], "nice": false, "zero": false}, "axis": null},
            "y": {"field": "v", "type": "quantitative", "scale": {"domain": [20769, 22771], "nice": false, "zero": false}, "axis": {"orient": "right", "values": [20800, 20900, 21000, 21100, 21200, 21300, 21400, 21500, 21600, 21700, 21800, 21900, 22000, 22100, 22200, 22300, 22400, 22500, 22600, 22700], "format": ".2f", "labelOverlap": false, "grid": true, "gridDash": [1, 4], "gridColor": "#a8b4c0", "gridWidth": 1, "title": null}},
            "text": {"field": "txt"}
          }
        },
        {
          "mark": {"type": "rule", "color": "#c8b878", "strokeWidth": 2},
          "encoding": {
            "y": {"datum": 20770, "type": "quantitative", "scale": {"domain": [20769, 22771], "nice": false, "zero": false}, "axis": {"orient": "right", "values": [20800, 20900, 21000, 21100, 21200, 21300, 21400, 21500, 21600, 21700, 21800, 21900, 22000, 22100, 22200, 22300, 22400, 22500, 22600, 22700], "format": ".2f", "labelOverlap": false, "grid": true, "gridDash": [1, 4], "gridColor": "#a8b4c0", "gridWidth": 1, "title": null}}
          }
        }
      ]
    },
    {
      "width": 773,
      "height": 104,
      "resolve": {"scale": {"fill": "independent", "stroke": "independent", "color": "independent"}},
      "layer": [
        {
          "data": {"name": "levels_dot"},
          "mark": {"type": "rule", "strokeDash": [1, 3], "color": "#a8b4c0", "strokeWidth": 1},
          "encoding": {
            "y": {"field": "v", "type": "quantitative", "scale": {"domain": [15.5, 110], "nice": false, "zero": false}, "axis": {"orient": "right", "values": [20, 30, 40, 50, 60, 70, 80, 90, 100, 110], "labelOverlap": false, "labelExpr": "datum.value == 50 || datum.value == 100 ? format(datum.value, '.2f') : ''", "grid": false, "title": null}}
          }
        },
        {
          "data": {"name": "levels_olive"},
          "mark": {"type": "rule", "color": "#c8b878", "strokeWidth": 1.5},
          "encoding": {
            "y": {"field": "v", "type": "quantitative", "scale": {"domain": [15.5, 110], "nice": false, "zero": false}, "axis": {"orient": "right", "values": [20, 30, 40, 50, 60, 70, 80, 90, 100, 110], "labelOverlap": false, "labelExpr": "datum.value == 50 || datum.value == 100 ? format(datum.value, '.2f') : ''", "grid": false, "title": null}}
          }
        },
        {
          "data": {"name": "vgrid"},
          "mark": {"type": "rule", "strokeDash": [2, 3], "color": "#b4c8d2", "strokeWidth": 1},
          "encoding": {"x": {"field": "t", "type": "quantitative", "scale": {"domain": [0, 154.6], "nice": false, "zero": false}, "axis": null}}
        },
        {
          "data": {"name": "vline"},
          "mark": {"type": "rule", "color": "#cfc39a", "strokeWidth": 1.5},
          "encoding": {"x": {"field": "t", "type": "quantitative", "scale": {"domain": [0, 154.6], "nice": false, "zero": false}, "axis": null}}
        },
        {
          "data": {"name": "stoch"},
          "mark": {"type": "line", "strokeWidth": 1, "clip": true},
          "encoding": {
            "x": {"field": "t", "type": "quantitative", "scale": {"domain": [0, 154.6], "nice": false, "zero": false}, "axis": null},
            "y": {"field": "v", "type": "quantitative", "scale": {"domain": [15.5, 110], "nice": false, "zero": false}, "axis": {"orient": "right", "values": [20, 30, 40, 50, 60, 70, 80, 90, 100, 110], "labelOverlap": false, "labelExpr": "datum.value == 50 || datum.value == 100 ? format(datum.value, '.2f') : ''", "grid": false, "title": null}},
            "color": {"field": "s", "type": "nominal", "scale": {"domain": ["d", "k"], "range": ["#f03434", "#3c3cf0"]}, "legend": null}
          }
        },
        {
          "mark": {"type": "rule", "color": "#c8b878", "strokeWidth": 1.5},
          "encoding": {
            "y": {"datum": 109.3, "type": "quantitative", "scale": {"domain": [15.5, 110], "nice": false, "zero": false}, "axis": {"orient": "right", "values": [20, 30, 40, 50, 60, 70, 80, 90, 100, 110], "labelOverlap": false, "labelExpr": "datum.value == 50 || datum.value == 100 ? format(datum.value, '.2f') : ''", "grid": false, "title": null}}
          }
        },
        {
          "data": {"name": "markers"},
          "mark": {"type": "rule", "color": "#1a1ac8", "strokeWidth": 3},
          "encoding": {
            "x": {"field": "t1", "type": "quantitative", "scale": {"domain": [0, 154.6], "nice": false, "zero": false}, "axis": null},
            "x2": {"field": "t2"},
            "y": {"datum": 107.4, "type": "quantitative", "scale": {"domain": [15.5, 110], "nice": false, "zero": false}, "axis": {"orient": "right", "values": [20, 30, 40, 50, 60, 70, 80, 90, 100, 110], "labelOverlap": false, "labelExpr": "datum.value == 50 || datum.value == 100 ? format(datum.value, '.2f') : ''", "grid": false, "title": null}}
          }
        }
      ]
    }
  ]
}
